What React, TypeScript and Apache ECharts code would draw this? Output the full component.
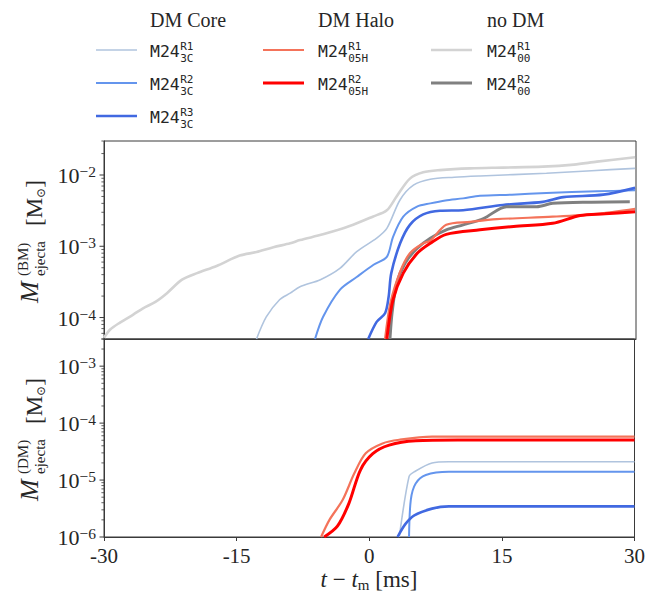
import React, { useEffect, useRef } from 'react';
import * as echarts from 'echarts';

// ---------- data (t - t_m in ms, ejecta mass in Msun) ----------
// Baryonic-matter ejecta (top panel)
const tBmCoreR1 = [-12.8, -11.7, -10.2, -9.0, -7.9, -5.6, -3.4, -1.5, 0.75, 1.9, 3.4, 4.9, 6.8, 9.5, 12.4, 19.9, 25, 29.9];
const mBmCoreR1 = [5e-5, 1.02e-4, 1.78e-4, 2.2e-4, 2.7e-4, 3.4e-4, 4.9e-4, 8.4e-4, 1.3e-3, 1.78e-3, 4.5e-3, 7.2e-3, 8.7e-3, 9.3e-3, 9.7e-3, 1.06e-2, 1.15e-2, 1.24e-2];

const tBmCoreR2 = [-6.2, -5.3, -3.4, -1.5, 0.4, 1.9, 2.6, 3.75, 5.3, 6.8, 8.5, 10.5, 12.4, 16, 19.9, 25.6, 29.9];
const mBmCoreR2 = [5e-5, 1.02e-4, 2.45e-4, 3.7e-4, 5.5e-4, 7.1e-4, 1.36e-3, 2.6e-3, 3.6e-3, 4.0e-3, 4.4e-3, 4.7e-3, 5.1e-3, 5.3e-3, 5.6e-3, 5.9e-3, 6.1e-3];

const tBmCoreR3 = [-0.2, 0.75, 1.7, 2.1, 2.4, 3.4, 4.5, 6.0, 7.9, 10.5, 15, 19.5, 21.8, 26.3, 29.9];
const mBmCoreR3 = [5e-5, 8.7e-5, 1.15e-4, 1.95e-4, 4.2e-4, 1.1e-3, 2.0e-3, 2.8e-3, 3.15e-3, 3.2e-3, 3.8e-3, 4.2e-3, 4.9e-3, 5.3e-3, 6.6e-3];

const tBmHaloR1 = [1.7, 2.3, 3.4, 4.5, 6.0, 6.8, 8.6, 11.3, 14.3, 20.6, 25.6, 29.9];
const mBmHaloR1 = [5e-5, 1.6e-4, 4.4e-4, 8.0e-4, 1.1e-3, 1.2e-3, 2.0e-3, 2.2e-3, 2.4e-3, 2.6e-3, 2.85e-3, 3.35e-3];

const tBmHaloR2 = [1.9, 2.6, 3.75, 5.3, 6.8, 8.6, 12.4, 16.2, 20.6, 23.7, 26.5, 29.9];
const mBmHaloR2 = [5e-5, 1.78e-4, 4.2e-4, 7.9e-4, 1.1e-3, 1.47e-3, 1.7e-3, 1.9e-3, 2.1e-3, 2.7e-3, 2.85e-3, 3.05e-3];

const tBmNoDmR1 = [-30, -29.3, -28.2, -26.7, -25.6, -24.2, -22.9, -21.2, -19.5, -17.3, -14.7, -12.8, -10.9, -9.0, -7.9, -5.3, -2.3, 0.3, 1.9, 3.0, 4.5, 6.0, 7.9, 11.3, 15, 19.5, 23, 25.6, 29.9];
const mBmNoDmR1 = [5.2e-5, 6.8e-5, 8.5e-5, 1.1e-4, 1.35e-4, 1.66e-4, 2.2e-4, 3.4e-4, 4.2e-4, 5.3e-4, 7.4e-4, 8.3e-4, 9.7e-4, 1.1e-3, 1.22e-3, 1.47e-3, 1.92e-3, 2.6e-3, 3.2e-3, 5.0e-3, 8.9e-3, 1.09e-2, 1.17e-2, 1.24e-2, 1.27e-2, 1.31e-2, 1.4e-2, 1.54e-2, 1.77e-2];

const tBmNoDmR2 = [2.25, 2.5, 3.0, 3.95, 5.3, 6.8, 8.6, 10.5, 12.8, 15.4, 18.8, 20.6, 25, 29.3];
const mBmNoDmR2 = [5e-5, 1.2e-4, 3.0e-4, 5.8e-4, 9.3e-4, 1.3e-3, 1.7e-3, 2.0e-3, 2.45e-3, 3.6e-3, 3.6e-3, 4.0e-3, 4.15e-3, 4.2e-3];

// Dark-matter ejecta (bottom panel)
const tDmCoreR1 = [3.4, 4.5, 5.1, 7.1, 9.0, 30];
const mDmCoreR1 = [1e-6, 1.15e-5, 1.4e-5, 2.0e-5, 2.1e-5, 2.1e-5];

const tDmCoreR2 = [4.5, 4.7, 5.25, 6.4, 9.0, 30];
const mDmCoreR2 = [1e-6, 4.5e-6, 8.7e-6, 1.23e-5, 1.4e-5, 1.4e-5];

const tDmCoreR3 = [3.2, 4.1, 5.1, 7.1, 9.0, 30];
const mDmCoreR3 = [1e-6, 1.7e-6, 2.4e-6, 3.15e-6, 3.45e-6, 3.45e-6];

const tDmHaloR1 = [-5.45, -4.5, -3.0, -1.7, -0.4, 1.5, 3.4, 7.1, 30];
const mDmHaloR1 = [1e-6, 2.0e-6, 4.5e-6, 1.3e-5, 2.95e-5, 4.4e-5, 5.1e-5, 5.8e-5, 5.8e-5];

const tDmHaloR2 = [-5.1, -3.6, -2.3, -1.0, 0.4, 2.25, 5.25, 10, 30];
const mDmHaloR2 = [1e-6, 1.55e-6, 3.9e-6, 1.5e-5, 2.9e-5, 4.1e-5, 4.9e-5, 5.05e-5, 5.05e-5];

// axes
const xTicks = [-30, -15, 0, 15, 30];
const yRangeBm = [5e-5, 3e-2];
const yRangeDm = [1e-6, 3e-3];

// legend
const legendHeaders = ['DM Core', 'DM Halo', 'no DM'];
const legendSubs = [['3C', '3C', '3C'], ['05H', '05H'], ['00', '00']];
const legendSups = [['R1', 'R2', 'R3'], ['R1', 'R2'], ['R1', 'R2']];

const SERIF = '"Liberation Serif", "DejaVu Serif", serif';
const MONO = '"DejaVu Sans Mono", "Liberation Mono", monospace';
const INK = '#262626';

const STYLES = {
  coreR1: { color: '#b0c4de', width: 1.6 },
  coreR2: { color: '#6495ed', width: 2 },
  coreR3: { color: '#4169e1', width: 2.6 },
  haloR1: { color: '#f4735a', width: 2.2 },
  haloR2: { color: '#ff0000', width: 3 },
  noDmR1: { color: '#d3d3d3', width: 2.6 },
  noDmR2: { color: '#808080', width: 3 },
};
const legendStyles = [
  [STYLES.coreR1, STYLES.coreR2, STYLES.coreR3],
  [STYLES.haloR1, STYLES.haloR2],
  [STYLES.noDmR1, STYLES.noDmR2],
];

function mkSeries(name: string, t: number[], m: number[], st: { color: string; width: number }, idx: number, z: number) {
  return {
    type: 'line',
    name,
    xAxisIndex: idx,
    yAxisIndex: idx,
    data: t.map((x, i) => [x, m[i]]),
    showSymbol: false,
    symbol: 'none',
    smooth: 0.3,
    clip: true,
    silent: true,
    z,
    lineStyle: { color: st.color, width: st.width },
    itemStyle: { color: st.color },
  };
}

function logLabel(v: number) {
  const l = Math.log10(v);
  const e = Math.round(l);
  if (Math.abs(l - e) > 1e-6) return '';
  return '{b|10}{s|' + (e < 0 ? '\u2212' : '') + Math.abs(e) + '}';
}

const labelRich = {
  b: { fontFamily: SERIF, fontSize: 22, color: INK, lineHeight: 23, verticalAlign: 'bottom' },
  s: { fontFamily: SERIF, fontSize: 15.5, color: INK, lineHeight: 15, verticalAlign: 'top' },
};

export default function App() {
  const ref = useRef<HTMLDivElement>(null);
  useEffect(() => {
    document.body.style.margin = '0';
    const chart = echarts.init(ref.current!, null, { renderer: 'svg' });
    const grids = [
      { left: 104, top: 141, width: 532, height: 198 },
      { left: 104, top: 339, width: 532, height: 198 },
    ];
    const option: any = {
      animation: false,
      grid: grids.map((g) => ({ ...g, show: true, borderColor: '#3a3a3a', borderWidth: 1, backgroundColor: 'transparent' })),
      xAxis: [0, 1].map((i) => ({
        type: 'value',
        gridIndex: i,
        min: xTicks[0],
        max: xTicks[xTicks.length - 1],
        interval: 15,
        axisLine: { show: true, onZero: false, lineStyle: { color: '#3a3a3a', width: 1 } },
        axisTick: { show: i === 1, length: 4, lineStyle: { color: '#3a3a3a' } },
        axisLabel: {
          show: i === 1,
          margin: 8,
          fontFamily: SERIF,
          fontSize: 21,
          color: INK,
          formatter: (v: number) => String(v),
        },
        splitLine: { show: false },
      })),
      yAxis: [yRangeBm, yRangeDm].map((r, i) => ({
        type: 'log',
        logBase: 10,
        gridIndex: i,
        min: r[0],
        max: r[1],
        axisLine: { show: true, onZero: false, lineStyle: { color: '#3a3a3a', width: 1 } },
        axisTick: { show: false },
        splitLine: { show: false },
        axisLabel: {
          margin: 8,
          showMaxLabel: false,
          showMinLabel: i === 1,
          formatter: logLabel,
          rich: labelRich,
        },
      })),
      series: [
        mkSeries('noDmR1', tBmNoDmR1, mBmNoDmR1, STYLES.noDmR1, 0, 1),
        mkSeries('coreR1', tBmCoreR1, mBmCoreR1, STYLES.coreR1, 0, 2),
        mkSeries('coreR2', tBmCoreR2, mBmCoreR2, STYLES.coreR2, 0, 3),
        mkSeries('coreR3', tBmCoreR3, mBmCoreR3, STYLES.coreR3, 0, 4),
        mkSeries('noDmR2', tBmNoDmR2, mBmNoDmR2, STYLES.noDmR2, 0, 5),
        mkSeries('haloR1', tBmHaloR1, mBmHaloR1, STYLES.haloR1, 0, 6),
        mkSeries('haloR2', tBmHaloR2, mBmHaloR2, STYLES.haloR2, 0, 7),
        mkSeries('dmCoreR1', tDmCoreR1, mDmCoreR1, STYLES.coreR1, 1, 2),
        mkSeries('dmCoreR2', tDmCoreR2, mDmCoreR2, STYLES.coreR2, 1, 3),
        mkSeries('dmCoreR3', tDmCoreR3, mDmCoreR3, STYLES.coreR3, 1, 4),
        mkSeries('dmHaloR1', tDmHaloR1, mDmHaloR1, STYLES.haloR1, 1, 6),
        mkSeries('dmHaloR2', tDmHaloR2, mDmHaloR2, STYLES.haloR2, 1, 7),
      ],
    };
    chart.setOption(option);

    const g: any[] = [];
    // y ticks (major + minor), computed through the axes
    [yRangeBm, yRangeDm].forEach((r, i) => {
      const x0 = chart.convertToPixel({ xAxisIndex: i } as any, xTicks[0]) as number;
      const e0 = Math.floor(Math.log10(r[0]));
      const e1 = Math.ceil(Math.log10(r[1]));
      for (let e = e0; e <= e1; e++) {
        for (let k = 1; k <= 9; k++) {
          const v = k * Math.pow(10, e);
          if (v < r[0] * 0.999 || v > r[1] * 1.001) continue;
          const y = chart.convertToPixel({ yAxisIndex: i } as any, v) as number;
          const major = k === 1;
          g.push({
            type: 'line',
            silent: true,
            shape: { x1: x0 - (major ? 4.5 : 2.6), y1: y, x2: x0, y2: y },
            style: { stroke: '#3a3a3a', lineWidth: major ? 1 : 0.8 },
          });
        }
      }
    });

    // legend
    const colX = [96, 263, 431];
    const textX = [150, 318, 487];
    const rowY = [50, 83, 116];
    legendHeaders.forEach((h, c) => {
      g.push({ type: 'text', x: textX[c], y: 20, silent: true, style: { text: h, fontFamily: SERIF, fontSize: 20, fill: INK, align: 'left', verticalAlign: 'middle' } });
      legendStyles[c].forEach((st, r) => {
        g.push({ type: 'line', silent: true, shape: { x1: colX[c], y1: rowY[r], x2: colX[c] + 41, y2: rowY[r] }, style: { stroke: st.color, lineWidth: st.width } });
        g.push({ type: 'text', x: textX[c], y: rowY[r] + 1, silent: true, style: { text: 'M24', fontFamily: MONO, fontSize: 16.5, fill: INK, align: 'left', verticalAlign: 'middle' } });
        g.push({ type: 'text', x: textX[c] + 30.2, y: rowY[r] - 4, silent: true, style: { text: legendSups[c][r], fontFamily: MONO, fontSize: 11, fill: INK, align: 'left', verticalAlign: 'middle' } });
        g.push({ type: 'text', x: textX[c] + 30.2, y: rowY[r] + 8, silent: true, style: { text: legendSubs[c][r], fontFamily: MONO, fontSize: 11, fill: INK, align: 'left', verticalAlign: 'middle' } });
      });
    });

    // rotated y-axis titles
    const yTitle = (cy: number, sup: string) => ({
      type: 'group',
      x: 33,
      y: cy,
      rotation: Math.PI / 2,
      silent: true,
      children: [
        { type: 'text', x: -63, y: -4, style: { text: 'M', fontFamily: SERIF, fontStyle: 'italic', fontSize: 26, fill: INK, align: 'left', verticalAlign: 'middle' } },
        { type: 'text', x: -36, y: -10, style: { text: sup, fontFamily: SERIF, fontSize: 15, fill: INK, align: 'left', verticalAlign: 'middle' } },
        { type: 'text', x: -36, y: 7, style: { text: 'ejecta', fontFamily: SERIF, fontSize: 15, fill: INK, align: 'left', verticalAlign: 'middle' } },
        {
          type: 'text', x: 14, y: 1,
          style: {
            text: '{r|[M}{s|\u2299}{r|]}', align: 'left', verticalAlign: 'middle',
            rich: {
              r: { fontFamily: SERIF, fontSize: 23, fill: INK, lineHeight: 26, verticalAlign: 'middle' },
              s: { fontFamily: '"DejaVu Serif", serif', fontSize: 12, fill: INK, lineHeight: 12, verticalAlign: 'bottom' },
            },
          },
        },
      ],
    });
    g.push(yTitle(240, '(BM)'));
    g.push(yTitle(438, '(DM)'));

    // x-axis title
    g.push({
      type: 'text', x: 369, y: 579, silent: true,
      style: {
        text: '{i|t}{r| \u2212 }{i|t}{m|m}{r| [ms]}', align: 'center', verticalAlign: 'middle',
        rich: {
          i: { fontFamily: SERIF, fontStyle: 'italic', fontSize: 23, fill: INK, lineHeight: 26, verticalAlign: 'middle' },
          r: { fontFamily: SERIF, fontSize: 23, fill: INK, lineHeight: 26, verticalAlign: 'middle' },
          m: { fontFamily: SERIF, fontSize: 15, fill: INK, lineHeight: 15, verticalAlign: 'bottom' },
        },
      },
    });

    chart.setOption({ graphic: g });
    return () => chart.dispose();
  }, []);
  return <div ref={ref} style={{ width: 648, height: 592 }} />;
}
